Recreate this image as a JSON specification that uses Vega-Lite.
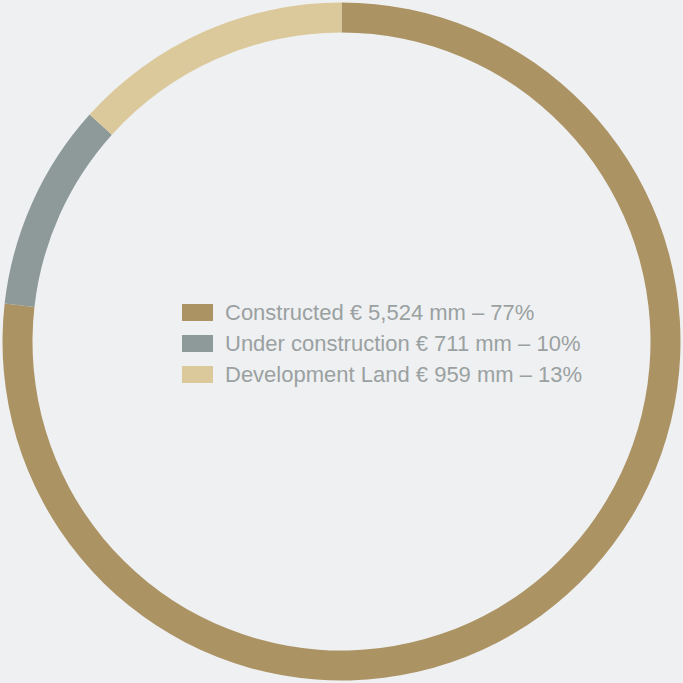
{
  "$schema": "https://vega.github.io/schema/vega-lite/v6.json",
  "width": 683,
  "height": 683,
  "autosize": {"type": "fit", "contains": "padding"},
  "padding": 0,
  "background": "#eff0f2",
  "config": {"view": {"stroke": null}},
  "data": {
    "values": [
      {"segment": "Constructed € 5,524 mm – 77%", "amount": 5524, "rank": 1},
      {"segment": "Under construction € 711 mm – 10%", "amount": 711, "rank": 2},
      {"segment": "Development Land € 959 mm – 13%", "amount": 959, "rank": 3}
    ]
  },
  "mark": {"type": "arc", "outerRadius": 339, "innerRadius": 309},
  "encoding": {
    "theta": {"field": "amount", "type": "quantitative", "stack": true},
    "order": {"field": "rank", "type": "quantitative"},
    "color": {
      "field": "segment",
      "type": "nominal",
      "sort": ["Constructed € 5,524 mm – 77%", "Under construction € 711 mm – 10%", "Development Land € 959 mm – 13%"],
      "scale": {
        "domain": ["Constructed € 5,524 mm – 77%", "Under construction € 711 mm – 10%", "Development Land € 959 mm – 13%"],
        "range": ["#ac9364", "#8e9999", "#dbc99b"]
      },
      "legend": {
        "title": null,
        "orient": "none",
        "legendX": 182,
        "legendY": 297,
        "padding": 0,
        "rowPadding": 4,
        "symbolType": "M-1,-0.55H1V0.55H-1Z",
        "symbolSize": 961,
        "symbolStrokeWidth": 0,
        "symbolOpacity": 1,
        "labelOffset": 12,
        "labelFont": "Liberation Sans",
        "labelFontSize": 22,
        "labelColor": "#9aa1a1",
        "labelLimit": 500
      }
    }
  }
}
